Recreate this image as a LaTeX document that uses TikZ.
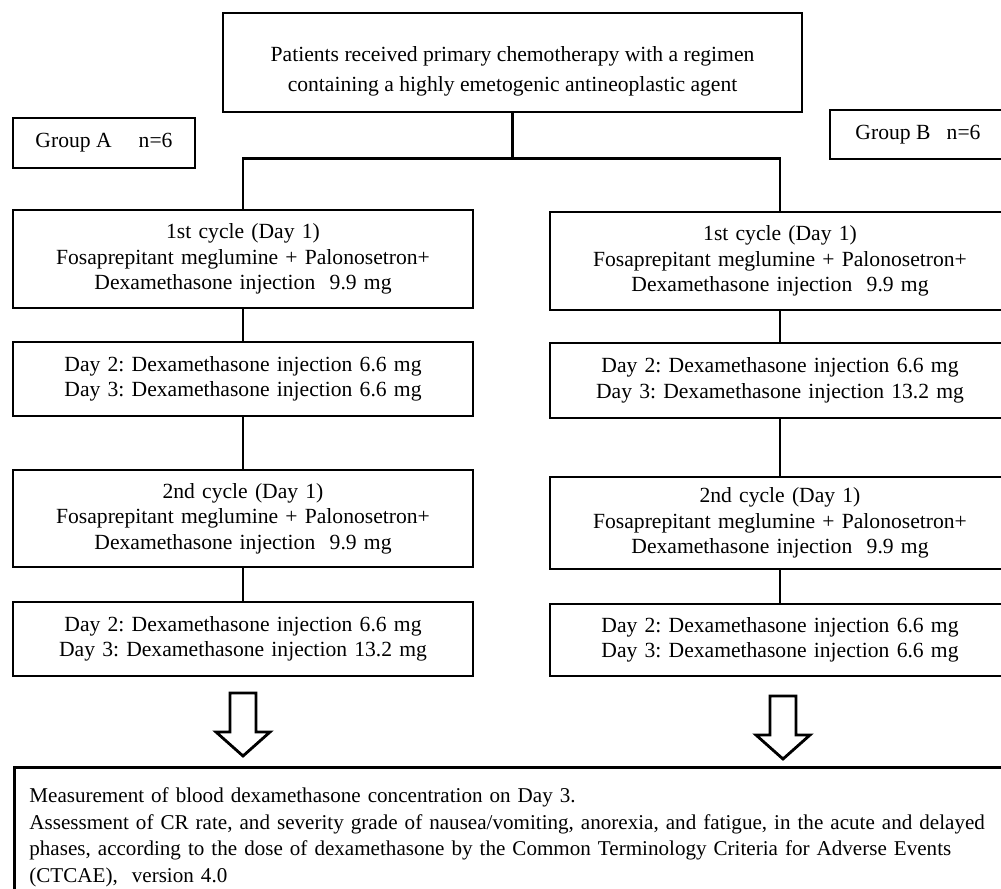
\documentclass[tikz,border=0pt]{standalone}
\usepackage{fontspec}
\setmainfont{Liberation Serif}
\usetikzlibrary{positioning}
\frenchspacing
\newcommand{\pxu}{0.02cm}
% hollow block arrow pointing down, from the top middle of its shaft
\newcommand{\blockdown}[1]{%
  \draw[boxline,line join=miter] (#1) ++(-13,0) -- ++(26,0) -- ++(0,39) -- ++(14,0)
    -- ++(-27,24) -- ++(-27,-24) -- ++(14,0) -- cycle;}

\begin{document}
\begin{tikzpicture}[x=0.02cm,y=-0.02cm,
    boxline/.style={draw=black,line width=1.6pt},
    txt/.style={font=\fontsize{12.3}{14.5}\selectfont},
    stepbox/.style={boxline,txt,minimum width=460*\pxu,text width=450*\pxu,
      align=center,inner sep=0pt},
    groupbox/.style={boxline,txt,inner sep=0pt}]
  \clip (0,0) rectangle (1001,889);

  \node[boxline,font=\fontsize{12.3}{17.5}\selectfont,inner sep=0pt,
    minimum width=579*\pxu,minimum height=99*\pxu] (top) at (512.5,62.5)
    {\begin{tabular}{@{}c@{}}
      \rule{0pt}{21.3pt}Patients received primary chemotherapy with a regimen\\
      containing a highly emetogenic antineoplastic agent\end{tabular}};

  \node[groupbox,minimum width=182*\pxu,minimum height=50*\pxu] (grpA) at (104,143)
    {Group A\quad\ n=6};
  \node[groupbox,minimum width=176*\pxu,minimum height=49*\pxu] (grpB) at (918,134.5)
    {Group B\enspace\ n=6};

  % group A
  \node[stepbox,minimum height=98*\pxu] (A1) at (243,259)
    {1st cycle (Day 1)\\Fosaprepitant meglumine + Palonosetron+\\
     Dexamethasone injection\ \ 9.9 mg};
  \node[stepbox,minimum height=74*\pxu] (A2) at (243,379)
    {Day 2: Dexamethasone injection 6.6 mg\\Day 3: Dexamethasone injection 6.6 mg};
  \node[stepbox,minimum height=97*\pxu] (A3) at (243,518.5)
    {2nd cycle (Day 1)\\Fosaprepitant meglumine + Palonosetron+\\
     Dexamethasone injection\ \ 9.9 mg};
  \node[stepbox,minimum height=74*\pxu] (A4) at (243,639)
    {Day 2: Dexamethasone injection 6.6 mg\\Day 3: Dexamethasone injection 13.2 mg};

  % group B
  \node[stepbox,minimum height=98*\pxu] (B1) at (780,261)
    {1st cycle (Day 1)\\Fosaprepitant meglumine + Palonosetron+\\
     Dexamethasone injection\ \ 9.9 mg};
  \node[stepbox,minimum height=75*\pxu] (B2) at (780,380.5)
    {Day 2: Dexamethasone injection 6.6 mg\\Day 3: Dexamethasone injection 13.2 mg};
  \node[stepbox,minimum height=92*\pxu] (B3) at (780,523)
    {2nd cycle (Day 1)\\Fosaprepitant meglumine + Palonosetron+\\
     Dexamethasone injection\ \ 9.9 mg};
  \node[stepbox,minimum height=72*\pxu] (B4) at (780,640)
    {Day 2: Dexamethasone injection 6.6 mg\\Day 3: Dexamethasone injection 6.6 mg};

  \node[boxline,font=\fontsize{12}{15.2}\selectfont,anchor=north west,align=left,
    minimum width=1010*\pxu,minimum height=140*\pxu,text width=980*\pxu,
    inner xsep=14*\pxu,inner ysep=10*\pxu] (result) at (13,766)
    {Measurement of blood dexamethasone concentration on Day 3.\\
     Assessment of CR rate, and severity grade of nausea/vomiting, anorexia, and fatigue, in the acute and delayed\\
     phases, according to the dose of dexamethasone by the Common Terminology Criteria for Adverse Events\\
     (CTCAE),\ \ version 4.0};

  % connectors
  \draw[boxline] (top.south) -- ++(0,45) coordinate (split);
  \draw[boxline] (A1.north) |- (split) -| (B1.north);
  \draw[boxline] (A1) -- (A2);
  \draw[boxline] (A2) -- (A3);
  \draw[boxline] (A3) -- (A4);
  \draw[boxline] (B1) -- (B2);
  \draw[boxline] (B2) -- (B3);
  \draw[boxline] (B3) -- (B4);
  \coordinate (arrA) at (243,693);
  \coordinate (arrB) at (783,696);
  \blockdown{arrA}
  \blockdown{arrB}
\end{tikzpicture}
\end{document}
